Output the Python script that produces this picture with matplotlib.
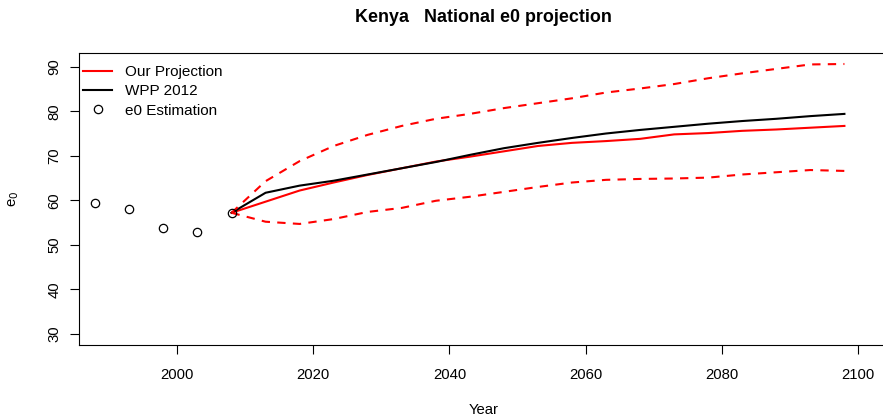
import matplotlib
matplotlib.use("Agg")
import matplotlib.pyplot as plt

plt.rcParams['font.family'] = ['Liberation Sans', 'DejaVu Sans']

# e0 estimates (past)
est_years = [1988, 1993, 1998, 2003, 2008]
est_e0 = [59.4, 58.1, 53.9, 52.9, 57.2]

# projection years
proj_years = [2008, 2013, 2018, 2023, 2028, 2033, 2038, 2043, 2048, 2053,
              2058, 2063, 2068, 2073, 2078, 2083, 2088, 2093, 2098]

our_median = [57.2, 59.7, 62.2, 64.0, 65.7, 67.2, 68.7, 69.8, 71.0, 72.2,
              72.9, 73.3, 73.8, 74.8, 75.1, 75.6, 75.9, 76.3, 76.7]
our_upper = [57.2, 64.3, 68.8, 72.2, 74.7, 76.7, 78.3, 79.4, 80.7, 81.8,
             82.9, 84.2, 85.1, 86.1, 87.4, 88.5, 89.5, 90.5, 90.6]
our_lower = [57.2, 55.2, 54.7, 55.8, 57.4, 58.3, 59.9, 60.8, 61.9, 63.0,
             64.0, 64.6, 64.8, 64.9, 65.1, 65.8, 66.3, 66.8, 66.6]
wpp2012 = [57.2, 61.7, 63.3, 64.4, 65.8, 67.2, 68.6, 70.2, 71.7, 72.9,
           74.0, 75.0, 75.8, 76.5, 77.2, 77.8, 78.3, 78.9, 79.4]

W, H = 883, 418
fig = plt.figure(figsize=(W / 100, H / 100), dpi=100)
ax = fig.add_axes([79 / W, (H - 345) / H, (888 - 79) / W, (345 - 53.3) / H])

fs = 10.7
ax.plot(proj_years, our_median, color="red", lw=1.5, label="Our Projection")
ax.plot(proj_years, wpp2012, color="black", lw=1.5, label="WPP 2012")
ax.plot(proj_years, our_upper, color="red", lw=1.5, dashes=(4, 3.5))
ax.plot(proj_years, our_lower, color="red", lw=1.5, dashes=(4, 3.5))
ax.plot(est_years, est_e0, "o", mfc="none", mec="black", mew=0.9, ms=6,
        label="e0 Estimation")

ax.set_xlim(1985.6, 2104.4)
ax.set_ylim(27.53, 93.0)
ax.set_xticks([2000, 2020, 2040, 2060, 2080, 2100])
ax.set_yticks([30, 40, 50, 60, 70, 80, 90])
ax.tick_params(direction="out", length=6.5, width=0.8, labelsize=fs)
ax.tick_params(axis="x", pad=10)
ax.tick_params(axis="y", pad=6)
for lab in ax.get_yticklabels():
    lab.set_rotation(90)
    lab.set_va("center")
for s in ax.spines.values():
    s.set_linewidth(0.8)

ax.legend(loc="upper left", bbox_to_anchor=(83 / W, 1 - 65 / H),
          bbox_transform=fig.transFigure, frameon=False, fontsize=11,
          borderpad=0, borderaxespad=0, handlelength=1.9,
          handletextpad=0.85, labelspacing=0.35)

fig.text(483.5 / W, 1 - 17 / H, "Kenya   National e0 projection",
         ha="center", va="center", fontsize=12.9, fontweight="bold")
fig.text(483.5 / W, 1 - 410 / H, "Year", ha="center", va="center", fontsize=fs)
fig.text(14 / W, 1 - 199 / H, "e$_0$", ha="center", va="center", fontsize=fs,
         rotation=90)

fig.savefig("out.png", dpi=100)
